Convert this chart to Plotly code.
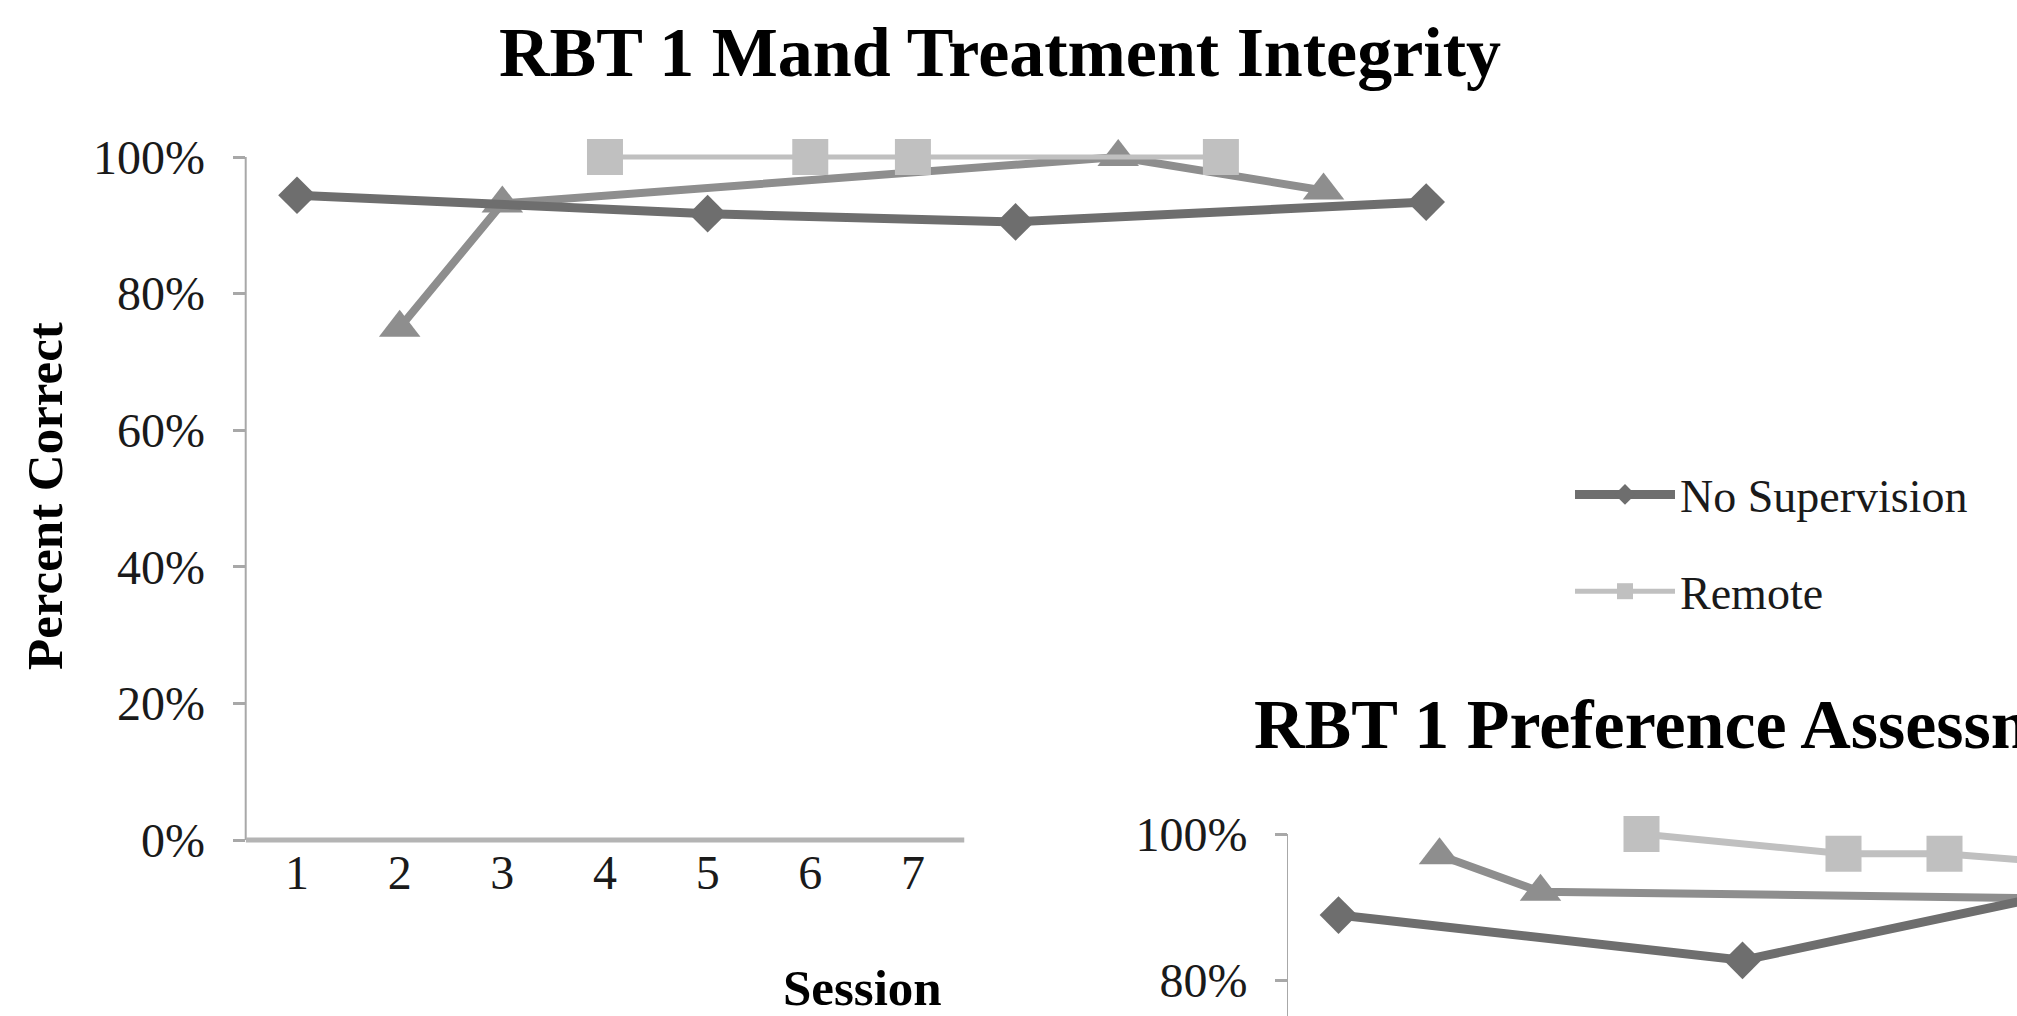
import plotly.graph_objects as go

# ---- data: RBT 1 mand treatment integrity (percent correct per session) ----
mand_sessions = list(range(1, 13))
mand_no_supervision = [94.4, None, None, None, 91.7, None, None, 90.5, None, None, None, 93.4]
mand_remote = [None, None, None, 100, None, 100, 100, None, None, 100, None, None]
mand_in_person = [None, 75.0, 93.2, None, None, None, None, None, 100, None, 95.1, None]
mand_tick_sessions = [1, 2, 3, 4, 5, 6, 7]

# ---- data: RBT 1 preference assessment integrity ----
pref_sessions = list(range(1, 11))
pref_no_supervision = [88.9, None, None, None, 82.7, None, None, 91.5, None, None]
pref_remote = [None, None, None, 100, None, 97.3, 97.3, None, None, 94.0]
pref_in_person = [None, 97.1, 92.1, None, None, None, None, None, 91.0, None]

pct_ticks_mand = [0, 20, 40, 60, 80, 100]
pct_ticks_pref = [80, 100]

W, H = 2017, 1016
SERIF = "Liberation Serif, Times New Roman, serif"
NS_COLOR = "#6e6e6e"
IP_COLOR = "#8e8e8e"
RM_COLOR = "#c0c0c0"
AXIS_COLOR = "#a8a8a8"


def px_x(p):
    return p / W


def px_y(p):
    return 1 - p / H


fig = go.Figure()

# per-series styling: (color, symbol, marker size, line width)
styles = {
    "No Supervision": (NS_COLOR, "diamond", 29, 9),
    "Remote": (RM_COLOR, "square", 36, 5),
    "In Person": (IP_COLOR, "triangle-up", 36, 8),
}
ranks = {"No Supervision": 1, "Remote": 2, "In Person": 3}

mand_series = [("In Person", mand_in_person), ("Remote", mand_remote), ("No Supervision", mand_no_supervision)]
for name, vals in mand_series:
    color, sym, ms, lw = styles[name]
    fig.add_trace(go.Scatter(
        x=mand_sessions, y=vals, name=name, mode="lines+markers", connectgaps=True,
        line=dict(color=color, width=lw), marker=dict(symbol=sym, size=ms, color=color),
        cliponaxis=False, xaxis="x", yaxis="y",
        showlegend=(name != "In Person"), legendgroup=name, legendrank=ranks[name],
    ))

pref_series = [("In Person", pref_in_person), ("Remote", pref_remote), ("No Supervision", pref_no_supervision)]
for name, vals in pref_series:
    color, sym, ms, lw = styles[name]
    if name == "Remote":
        lw = 7
    fig.add_trace(go.Scatter(
        x=pref_sessions, y=vals, name=name, mode="lines+markers", connectgaps=True,
        line=dict(color=color, width=lw), marker=dict(symbol=sym, size=ms, color=color),
        cliponaxis=False, xaxis="x2", yaxis="y2", showlegend=False,
    ))

# panel geometry (pixels)
m_left, m_right = 245.7, 1477.5      # session 0.5 .. 12.5
m_zero, m_hundred = 840.0, 157.0      # 0% .. 100%
m_top_val = 104.0
m_top_px = m_hundred - (m_top_val - 100) * (m_zero - m_hundred) / 100

p_left = 1288.0
p_hundred, p_eighty = 834.0, 980.0
p_ppp = (p_eighty - p_hundred) / 20.0
p_bottom_val = 100 - (H - p_hundred) / p_ppp
p_top_px = 800.0
p_top_val = 100 + (p_hundred - p_top_px) / p_ppp
p_right_val = 0.5 + (W - p_left) / 101.0

tick_font = dict(family=SERIF, size=48, color="#1a1a1a")
common_axis = dict(showgrid=False, zeroline=False, showline=False, automargin=False)

fig.update_layout(
    template="none",
    width=W, height=H,
    margin=dict(l=0, r=0, t=0, b=0, pad=0),
    paper_bgcolor="white", plot_bgcolor="white",
    xaxis=dict(domain=[px_x(m_left), px_x(m_right)], range=[0.5, 12.5], anchor="y",
               tickvals=mand_tick_sessions, ticktext=[str(v) for v in mand_tick_sessions],
               ticks="", tickfont=tick_font, ticklabelstandoff=0, **common_axis),
    yaxis=dict(domain=[px_y(m_zero), px_y(m_top_px)], range=[0, m_top_val], anchor="x",
               tickvals=pct_ticks_mand, ticktext=[f"{v}%" for v in pct_ticks_mand],
               ticks="outside", ticklen=12, tickwidth=3, tickcolor=AXIS_COLOR,
               tickfont=tick_font, ticklabelstandoff=18, **common_axis),
    xaxis2=dict(domain=[px_x(p_left), 1], range=[0.5, p_right_val], anchor="y2",
                showticklabels=False, ticks="", **common_axis),
    yaxis2=dict(domain=[0, px_y(p_top_px)], range=[p_bottom_val, p_top_val], anchor="x2",
                tickvals=pct_ticks_pref, ticktext=[f"{v}%" for v in pct_ticks_pref],
                ticks="outside", ticklen=12, tickwidth=3, tickcolor=AXIS_COLOR,
                tickfont=tick_font, ticklabelstandoff=18, **common_axis),
    legend=dict(x=px_x(1570), y=px_y(458), xanchor="left", yanchor="top",
                font=dict(family=SERIF, size=46, color="#1a1a1a"),
                itemwidth=100, traceorder="grouped", tracegroupgap=34,
                bgcolor="rgba(0,0,0,0)", borderwidth=0),
    showlegend=True,
)

# axis lines (only the visible stretches)
fig.add_shape(type="line", xref="paper", yref="y", x0=px_x(m_left), x1=px_x(m_left), y0=0, y1=100,
              line=dict(color=AXIS_COLOR, width=2), layer="below")
fig.add_shape(type="line", xref="x", yref="paper", x0=0.5, x1=7.5, y0=px_y(m_zero), y1=px_y(m_zero),
              line=dict(color="#b4b4b4", width=5), layer="below")
fig.add_shape(type="line", xref="paper", yref="y2", x0=px_x(p_left), x1=px_x(p_left), y0=p_bottom_val, y1=100,
              line=dict(color=AXIS_COLOR, width=2), layer="below")

title_font = dict(family=SERIF, size=70, color="#000000")
label_font = dict(family=SERIF, size=51, color="#000000")

fig.add_annotation(text="<b>RBT 1 Mand Treatment Integrity</b>", xref="paper", yref="paper",
                   x=px_x(1000), y=px_y(52), xanchor="center", yanchor="middle",
                   showarrow=False, font=title_font)
fig.add_annotation(text="<b>RBT 1 Preference Assessment Integrity</b>", xref="paper", yref="paper",
                   x=px_x(1252), y=px_y(724), xanchor="left", yanchor="middle",
                   showarrow=False, font=title_font)
fig.add_annotation(text="<b>Percent Correct</b>", xref="paper", yref="paper",
                   x=px_x(45), y=px_y(496), xanchor="center", yanchor="middle", textangle=-90,
                   showarrow=False, font=label_font)
fig.add_annotation(text="<b>Session</b>", xref="paper", yref="paper",
                   x=px_x(862), y=px_y(988), xanchor="center", yanchor="middle",
                   showarrow=False, font=label_font)

fig.write_html("out.html")
